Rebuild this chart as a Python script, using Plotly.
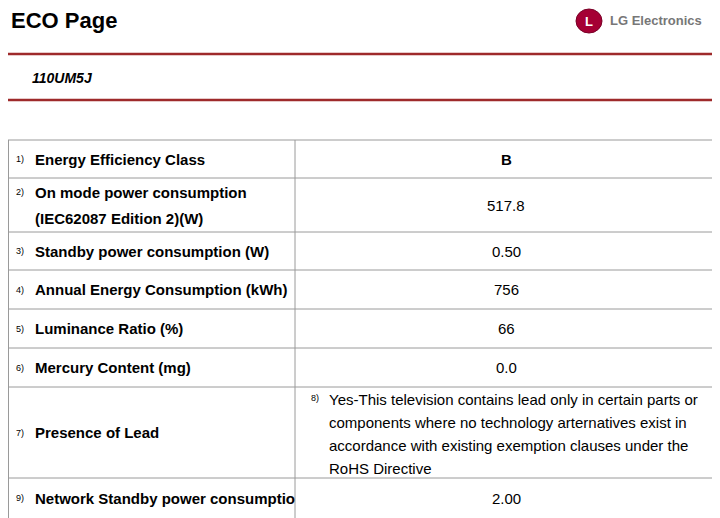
import plotly.graph_objects as go

row_nums = ["1)", "2)", "3)", "4)", "5)", "6)", "7)", "9)"]
row_labels = ["Energy Efficiency Class",
              "On mode power consumption<br><br>(IEC62087 Edition 2)(W)",
              "Standby power consumption (W)",
              "Annual Energy Consumption (kWh)",
              "Luminance Ratio (%)",
              "Mercury Content (mg)",
              "Presence of Lead",
              "Network Standby power consumptio"]
row_values = ["<b>B</b>", "517.8", "0.50", "756", "66", "0.0", None, "2.00"]
lead_note = ["Yes-This television contains lead only in certain parts or",
             "components where no technology arternatives exist in",
             "accordance with existing exemption clauses under the",
             "RoHS Directive"]
row_edges = [140, 178, 232, 270, 309, 348, 387, 478, 520]

fig = go.Figure()
shapes, ann = [], []
F = "Liberation Sans, Arial, sans-serif"
red = "#9E2A2B"
grey = "#9a9a9a"
FS = 15

shapes.append(dict(type="line", x0=0, x1=720, y0=54, y1=54, line=dict(color=red, width=2.5)))
shapes.append(dict(type="line", x0=0, x1=720, y0=100, y1=100, line=dict(color=red, width=2.5)))
shapes.append(dict(type="line", x0=716, x1=716, y0=100, y1=140, line=dict(color=grey, width=1)))
for y in row_edges[:-1]:
    shapes.append(dict(type="line", x0=8, x1=720, y0=y, y1=y, line=dict(color=grey, width=1)))
shapes.append(dict(type="line", x0=8.5, x1=8.5, y0=140, y1=520, line=dict(color=grey, width=1)))
shapes.append(dict(type="line", x0=295, x1=295, y0=140, y1=520, line=dict(color=grey, width=1)))
shapes.append(dict(type="line", x0=716, x1=716, y0=140, y1=520, line=dict(color=grey, width=1)))

ann.append(dict(x=9, y=20, text="<b>ECO Page</b>", showarrow=False, xanchor="left", yanchor="middle",
                font=dict(family=F, size=22, color="black")))
ann.append(dict(x=30, y=78, text="<b><i>110UM5J</i></b>", showarrow=False, xanchor="left", yanchor="middle",
                font=dict(family=F, size=14, color="black")))
shapes.append(dict(type="circle", x0=576, x1=602, y0=9, y1=33, fillcolor="#A50034", line=dict(color="#7a0027", width=1)))
ann.append(dict(x=589, y=21, text="<b>L</b>", showarrow=False, font=dict(family=F, size=13, color="white")))
ann.append(dict(x=608, y=20, text="<b>LG Electronics</b>", showarrow=False, xanchor="left", yanchor="middle",
                font=dict(family=F, size=13, color="#777777")))

for i, (n, lab, val) in enumerate(zip(row_nums, row_labels, row_values)):
    y0, y1 = row_edges[i], row_edges[i + 1]
    yc = (y0 + y1) / 2 if i < 7 else 498
    if i == 1:
        ann.append(dict(x=14, y=192, text=n, showarrow=False, xanchor="left", yanchor="middle",
                        font=dict(family=F, size=9, color="black")))
        ann.append(dict(x=33, y=192, text="<b>On mode power consumption</b>", showarrow=False, xanchor="left",
                        yanchor="middle", font=dict(family=F, size=FS, color="black")))
        ann.append(dict(x=33, y=218, text="<b>(IEC62087 Edition 2)(W)</b>", showarrow=False, xanchor="left",
                        yanchor="middle", font=dict(family=F, size=FS, color="black")))
    else:
        ann.append(dict(x=14, y=yc, text=n, showarrow=False, xanchor="left", yanchor="middle",
                        font=dict(family=F, size=9, color="black")))
        ann.append(dict(x=33, y=yc, text="<b>" + lab + "</b>", showarrow=False, xanchor="left", yanchor="middle",
                        font=dict(family=F, size=FS, color="black")))
    if val is not None:
        ann.append(dict(x=506, y=yc, text=val, showarrow=False, xanchor="center", yanchor="middle",
                        font=dict(family=F, size=FS, color="black")))

ann.append(dict(x=309, y=398, text="8)", showarrow=False, xanchor="left", yanchor="middle",
                font=dict(family=F, size=9, color="black")))
for k, line in enumerate(lead_note):
    ann.append(dict(x=327, y=399 + k * 23, text=line, showarrow=False, xanchor="left", yanchor="middle",
                    font=dict(family=F, size=FS, color="black")))

# page body has an 8px margin: size figure so that data units equal window pixels
fig.update_layout(width=712, height=510, margin=dict(l=0, r=0, t=0, b=0),
                  paper_bgcolor="white", plot_bgcolor="white",
                  xaxis=dict(range=[8, 720], visible=False, fixedrange=True),
                  yaxis=dict(range=[518, 8], visible=False, fixedrange=True),
                  shapes=shapes, annotations=ann, showlegend=False)
fig.write_html("out.html")
